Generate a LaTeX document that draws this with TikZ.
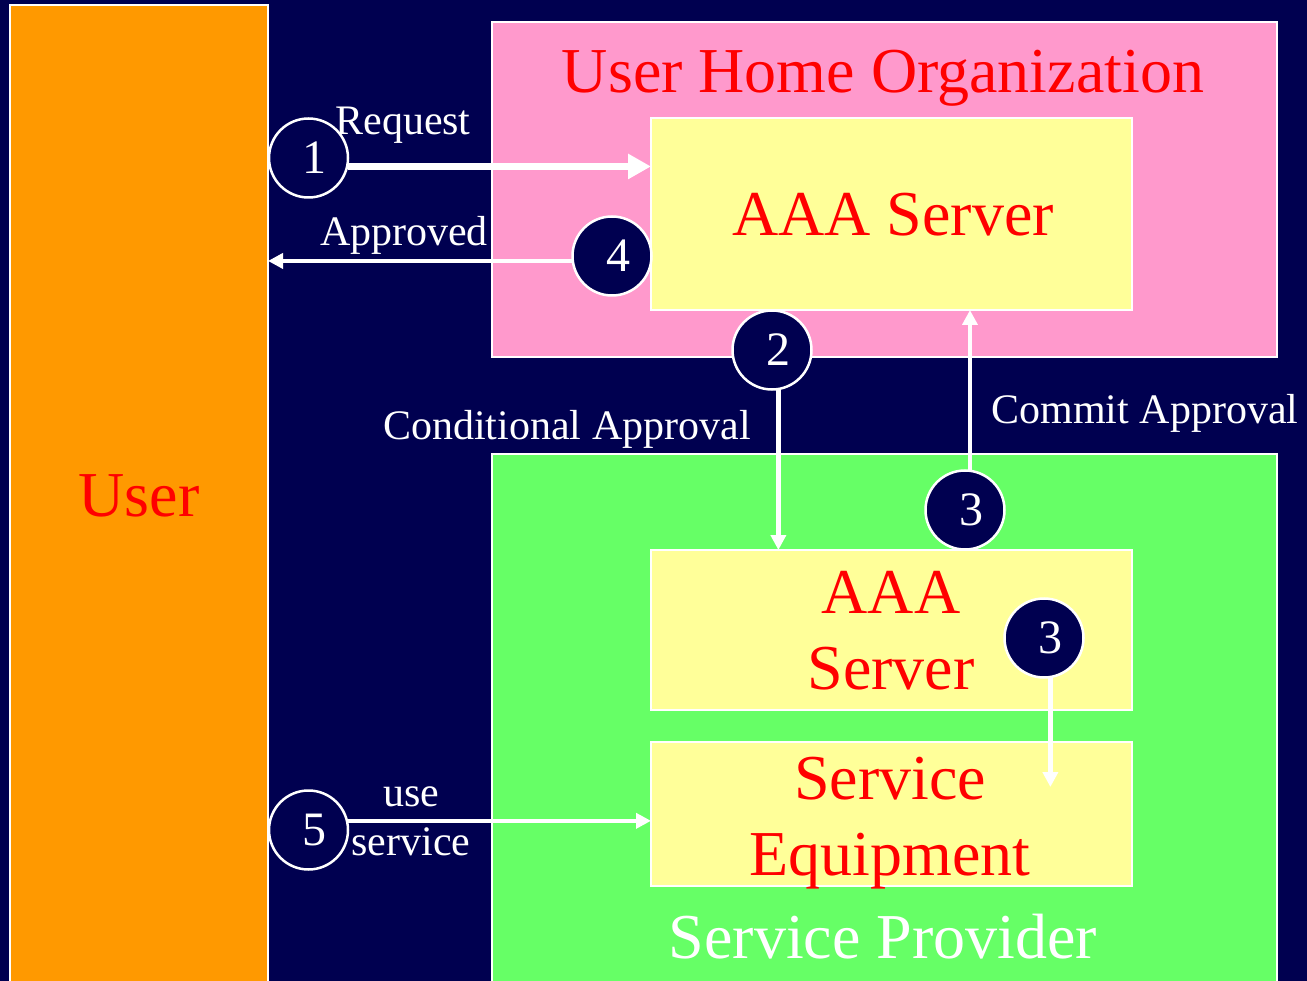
\documentclass[tikz,border=0pt]{standalone}
\usepackage{fontspec}
\setmainfont{Liberation Serif}
\usetikzlibrary{arrows.meta,calc}

\definecolor{navy}{RGB}{0,0,80}
\definecolor{userorange}{RGB}{255,153,0}
\definecolor{homepink}{RGB}{255,153,204}
\definecolor{spgreen}{RGB}{102,255,102}
\definecolor{paleyellow}{RGB}{255,255,153}
\definecolor{titlered}{RGB}{255,0,0}

\pgfdeclarelayer{panels}
\pgfdeclarelayer{links}
\pgfsetlayers{panels,links,main}

\tikzset{
  panel/.style={draw=white, line width=2pt, inner sep=0pt, outer sep=0pt, anchor=north west},
  badge/.style={circle, draw=white, line width=2.5pt, fill=navy, text=white,
    minimum size=79pt, inner sep=0pt, font=\fontsize{48}{48}\selectfont,
    execute at begin node={\kern12pt}},
  bigtext/.style={text=titlered, inner sep=0pt, anchor=base, align=center,
    font=\fontsize{64}{76}\selectfont},
  smalltext/.style={text=white, inner sep=0pt, anchor=base, align=center,
    font=\fontsize{42}{49}\selectfont},
  link/.style={draw=white, line width=4.5pt, -{Triangle[length=15pt,width=15pt]}},
  boldlink/.style={draw=white, line width=6.5pt, -{Triangle[length=23pt,width=24pt]}}
}

\begin{document}
\begin{tikzpicture}[x=1pt, y=-1pt]
  \useasboundingbox (0,0) rectangle (1307,981);

  % background and the domain panels
  \begin{pgfonlayer}{panels}
    \fill[navy] (0,0) rectangle (1307,981);
    \clip (0,0) rectangle (1307,981);
    \node[panel, fill=userorange, minimum width=258pt, minimum height=1000pt] (user) at (10,5) {};
    \node[panel, fill=homepink, minimum width=785pt, minimum height=335pt] (home) at (492,22) {};
    \node[panel, fill=spgreen, minimum width=785pt, minimum height=560pt] (provider) at (492,454) {};
    \node[panel, fill=paleyellow, minimum width=481pt, minimum height=192pt] (homeaaa) at (651,118) {};
    \node[panel, fill=paleyellow, minimum width=481pt, minimum height=160pt] (spaaa) at (651,550) {};
    \node[panel, fill=paleyellow, minimum width=481pt, minimum height=144pt] (equip) at (651,742) {};
  \end{pgfonlayer}

  % titles inside the panels (multi-line nodes sit on their last baseline)
  \node[bigtext] (userT) at (139,516) {User};
  \node[bigtext] (homeT) at (883,93) {User Home Organization};
  \node[bigtext] (homeaaaT) at (893,236) {AAA Server};
  \node[bigtext] (spaaaT) at (891,689) {AAA\\Server};
  \node[bigtext] (equipT) at (890,875) {Service\\Equipment};
  \node[bigtext, text=white] (providerT) at (883,958) {Service Provider};

  % message labels
  \node[smalltext] (reqT) at (403,135) {Request};
  \node[smalltext] (apprT) at (404,246) {Approved};
  \node[smalltext] (condT) at (567,440) {Conditional Approval};
  \node[smalltext] (commitT) at (1145,424) {Commit Approval};
  \node[smalltext] (useT) at (411,855) {use\\service};

  % numbered steps
  \node[badge] (c1) at (308.5,158) {1};
  \node[badge] (c4) at (612,256) {4};
  \node[badge] (c2) at (772,350) {2};
  \node[badge] (c3a) at (965,510) {3};
  \node[badge] (c3b) at (1044,638) {3};
  \node[badge] (c5) at (308.5,830) {5};
  \coordinate (tip3) at (1050,787);

  % message flows
  \begin{pgfonlayer}{links}
    \draw[boldlink] (c1.-12) -- (c1.-12 -| homeaaa.west);
    \draw[link] (c4.187) -- (c4.187 -| user.east);
    \draw[link] (c2.-81) -- (c2.-81 |- spaaa.north);
    \draw[link] (c3a.83) -- (c3a.83 |- homeaaa.south);
    \draw[link] (c3b.-81) -- (c3b.-81 |- tip3);
    \draw[link] (c5.13) -- (c5.13 -| equip.west);
  \end{pgfonlayer}
\end{tikzpicture}
\end{document}
